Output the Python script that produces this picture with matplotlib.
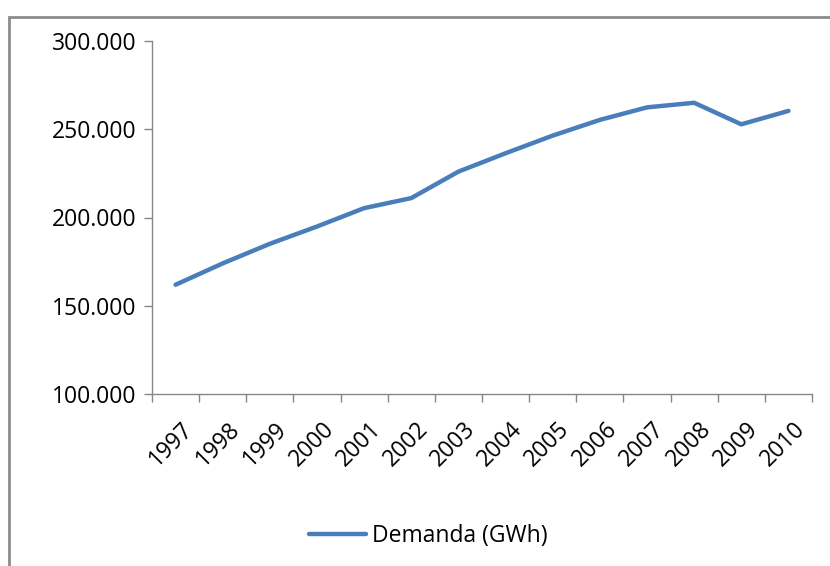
import matplotlib
matplotlib.use('Agg')
from matplotlib import pyplot as plt
from matplotlib.patches import Rectangle
from matplotlib.ticker import FuncFormatter, FixedLocator
from matplotlib.transforms import ScaledTranslation
import numpy as np

years = ['1997', '1998', '1999', '2000', '2001', '2002', '2003',
         '2004', '2005', '2006', '2007', '2008', '2009', '2010']
demanda = [161900, 174000, 185100, 194900, 205300, 211000, 226000,
           236400, 246400, 255300, 262400, 265000, 252800, 260400]

plt.rcParams['font.family'] = ['Open Sans', 'DejaVu Sans']

fig = plt.figure(figsize=(8.3, 5.66), dpi=100)
ax = fig.add_axes([152/830, 1 - 394/566, 660/830, 353/566])

x = np.arange(len(years))
ax.plot(x, demanda, color='#4A7EBB', lw=3.2, solid_capstyle='round',
        solid_joinstyle='round', label='Demanda (GWh)')

ax.set_xlim(-0.5, len(years) - 0.5)
ax.set_ylim(100000, 300000)
ax.set_yticks(np.arange(100000, 300001, 50000))
ax.yaxis.set_major_formatter(FuncFormatter(lambda v, p: f'{int(v):,}'.replace(',', '.')))

ax.set_xticks(x)
ax.set_xticklabels(years, rotation=45, ha='right', rotation_mode='anchor')
ax.xaxis.set_minor_locator(FixedLocator(np.arange(-0.5, len(years), 1)))
ax.tick_params(axis='x', which='major', length=0, pad=17, labelsize=16.5)
ax.tick_params(axis='x', which='minor', length=6, color='#868686', width=1)
ax.tick_params(axis='y', length=6, color='#868686', width=1, labelsize=16.5, pad=5)
shift = ScaledTranslation(5/100, 0, fig.dpi_scale_trans)
for lbl in ax.get_xticklabels():
    lbl.set_transform(lbl.get_transform() + shift)

for s in ['top', 'right']:
    ax.spines[s].set_visible(False)
for s in ['left', 'bottom']:
    ax.spines[s].set_color('#868686')
    ax.spines[s].set_linewidth(1)

leg = fig.legend(loc='center', bbox_to_anchor=(0.516, 0.053), frameon=False,
                 fontsize=16.5, handlelength=2.5, handletextpad=0.25)

# outer chart frame (cut off at right and bottom)
fig.patches.append(Rectangle((9/830, -0.1), 1.0, 1.1 - 17/566, transform=fig.transFigure,
                             fill=False, edgecolor='#8C8C8C', lw=2))

fig.savefig('out.png', dpi=100)
